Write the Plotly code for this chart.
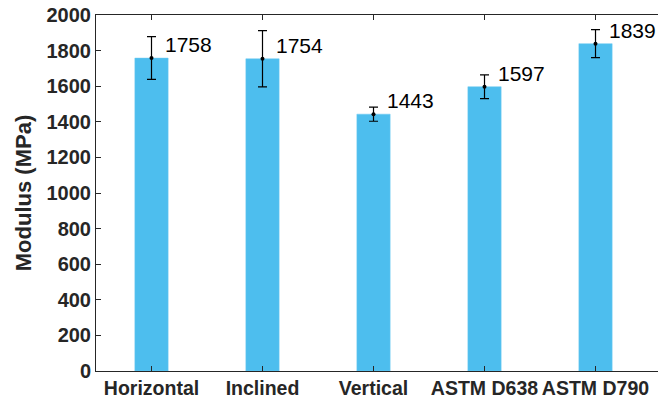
import plotly.graph_objects as go

categories = ["Horizontal", "Inclined", "Vertical", "ASTM D638", "ASTM D790"]
modulus = [1758, 1754, 1443, 1597, 1839]
errors = [120, 158, 40, 67, 79]
y_ticks = [0, 200, 400, 600, 800, 1000, 1200, 1400, 1600, 1800, 2000]

xpos = list(range(1, len(categories) + 1))
axis_color = "#262626"
font_family = "Liberation Sans, Arial, sans-serif"

fig = go.Figure()
fig.add_trace(go.Bar(
    x=xpos, y=modulus, width=0.3,
    marker=dict(color="#4DBEEE", line=dict(color="#6CC9F0", width=0.5)),
    showlegend=False, hoverinfo="skip",
))
fig.add_trace(go.Scatter(
    x=xpos, y=modulus, mode="markers",
    marker=dict(color="black", size=4),
    error_y=dict(type="data", array=errors, visible=True, color="black",
                 thickness=1.2, width=4.5),
    showlegend=False, hoverinfo="skip",
))

for xp, v in zip(xpos, modulus):
    fig.add_annotation(x=xp + 0.1, y=v + 75, text=str(v), showarrow=False,
                       xanchor="left", yanchor="middle",
                       font=dict(family=font_family, size=21, color="black"))

fig.update_layout(
    width=666, height=404,
    margin=dict(l=88, r=8, t=7, b=41),
    paper_bgcolor="white", plot_bgcolor="white",
    font=dict(family=font_family, color=axis_color),
)
fig.update_xaxes(
    range=[0.5, 5.635], tickvals=xpos, ticktext=categories, tickangle=0,
    tickfont=dict(family=font_family, size=19.5, color=axis_color, weight="bold"),
    ticks="inside", ticklen=5, tickcolor=axis_color,
    showline=True, linecolor=axis_color, linewidth=1, mirror="ticks",
    showgrid=False, zeroline=False, automargin=False,
    ticklabeloverflow="allow",
)
fig.update_yaxes(
    range=[0, 2000], tickvals=y_ticks,
    tickfont=dict(family=font_family, size=20, color=axis_color, weight="bold"),
    ticks="inside", ticklen=5, tickcolor=axis_color,
    showline=True, linecolor=axis_color, linewidth=1,
    showgrid=False, zeroline=False, automargin=False,
    ticklabeloverflow="allow",
    title=dict(text="Modulus (MPa)", standoff=8,
               font=dict(family=font_family, size=22, color=axis_color, weight="bold")),
)

fig.write_html("out.html")
